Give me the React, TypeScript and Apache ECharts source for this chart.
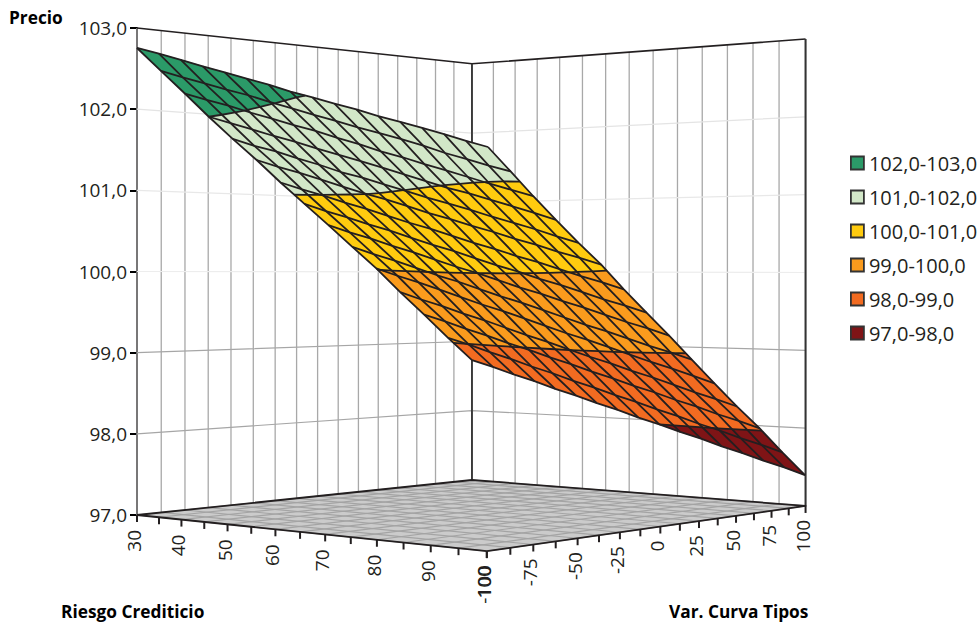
import React, { useEffect, useRef } from "react";
import * as echarts from "echarts";

const FONT = '"Open Sans", sans-serif';
const INK = "#231f20";

const priceTicks = [97, 98, 99, 100, 101, 102, 103];
const riesgoValues = [30, 35, 40, 45, 50, 55, 60, 65, 70, 75, 80, 85, 90, 95, 100];
const riesgoLabels = [30, 40, 50, 60, 70, 80, 90, 100];
const curvaValues = [-100, -87.5, -75, -62.5, -50, -37.5, -25, -12.5, 0, 12.5, 25, 37.5, 50, 62.5, 75, 87.5, 100];
const curvaLabels = [-100, -75, -50, -25, 0, 25, 50, 75, 100];

const bandNames = ["102,0-103,0", "101,0-102,0", "100,0-101,0", "99,0-100,0", "98,0-99,0", "97,0-98,0"];
const bandLows = [102, 101, 100, 99, 98, 97];
const bandColors = ["#2b9a68", "#d2e7c8", "#ffcb0f", "#fa9b1d", "#f26b21", "#7f1416"];
const wallLineColors = ["", "#a6a6a6", "#a6a6a6", "#ededed", "#e8e8e8", "#e4e4e4"];

// Precio: one row per Riesgo Crediticio value, one column per Var. Curva Tipos value
const precio = [
  [102.85, 102.73, 102.61, 102.49, 102.38, 102.27, 102.17, 102.06, 101.97, 101.88, 101.80, 101.71, 101.64, 101.57, 101.50, 101.43, 101.37],
  [102.57, 102.45, 102.34, 102.23, 102.13, 102.02, 101.92, 101.82, 101.73, 101.64, 101.56, 101.48, 101.40, 101.31, 101.24, 101.17, 101.11],
  [102.29, 102.18, 102.08, 101.97, 101.87, 101.77, 101.68, 101.58, 101.49, 101.39, 101.31, 101.22, 101.14, 101.06, 100.98, 100.91, 100.84],
  [102.00, 101.90, 101.80, 101.70, 101.61, 101.51, 101.42, 101.33, 101.24, 101.15, 101.06, 100.97, 100.90, 100.82, 100.74, 100.66, 100.58],
  [101.72, 101.62, 101.54, 101.44, 101.35, 101.25, 101.17, 101.08, 100.99, 100.90, 100.82, 100.74, 100.65, 100.57, 100.49, 100.40, 100.32],
  [101.45, 101.36, 101.28, 101.19, 101.10, 101.01, 100.93, 100.84, 100.75, 100.67, 100.58, 100.50, 100.41, 100.33, 100.24, 100.16, 100.07],
  [101.16, 101.07, 100.99, 100.90, 100.82, 100.73, 100.64, 100.56, 100.47, 100.38, 100.30, 100.21, 100.13, 100.04, 99.95, 99.87, 99.78],
  [100.88, 100.79, 100.71, 100.62, 100.54, 100.45, 100.36, 100.28, 100.19, 100.10, 100.02, 99.93, 99.85, 99.76, 99.67, 99.59, 99.50],
  [100.60, 100.51, 100.43, 100.34, 100.26, 100.17, 100.08, 100.00, 99.91, 99.82, 99.74, 99.65, 99.57, 99.48, 99.39, 99.31, 99.22],
  [100.31, 100.22, 100.14, 100.05, 99.96, 99.88, 99.79, 99.70, 99.62, 99.53, 99.44, 99.35, 99.27, 99.18, 99.09, 99.01, 98.92],
  [100.02, 99.93, 99.85, 99.76, 99.67, 99.58, 99.50, 99.41, 99.32, 99.23, 99.15, 99.06, 98.97, 98.88, 98.80, 98.71, 98.62],
  [99.70, 99.61, 99.53, 99.44, 99.36, 99.27, 99.18, 99.10, 99.01, 98.92, 98.84, 98.75, 98.67, 98.58, 98.49, 98.41, 98.32],
  [99.39, 99.31, 99.22, 99.14, 99.05, 98.97, 98.88, 98.80, 98.71, 98.63, 98.54, 98.46, 98.37, 98.29, 98.20, 98.12, 98.03],
  [99.07, 98.99, 98.90, 98.82, 98.73, 98.65, 98.56, 98.48, 98.39, 98.31, 98.22, 98.14, 98.05, 97.97, 97.88, 97.80, 97.71],
  [98.76, 98.68, 98.59, 98.51, 98.42, 98.34, 98.25, 98.17, 98.08, 98.00, 97.91, 97.83, 97.74, 97.66, 97.57, 97.49, 97.40],
];

const toU = (r: number) => (r - 30) / 70;
const toV = (c: number) => (c + 100) / 200;

// Frame perspective: floor homography; wall height scales with 1/w
const W_U = -0.127;
const W_V = 0.17;
const frameW = (u: number, v: number) => 1 + W_U * u + W_V * v;
const floorX = (u: number, v: number) => (137 + 288 * u + 415.2 * v) / frameW(u, v);
const floorY = (u: number, v: number) => (515 - 33.9 * u + 46.6 * v) / frameW(u, v);

const lerp = (a: number, b: number, t: number) => a + (b - a) * t;
const bilinear = (p00: number, p10: number, p01: number, p11: number, u: number, v: number) =>
  lerp(lerp(p00, p10, u), lerp(p01, p11, u), v);

function wallPoint(api: any, u: number, v: number, z: number) {
  const h = 515 - api.coord([137, z])[1];
  return [floorX(u, v), floorY(u, v) - h / frameW(u, v)];
}

function surfacePoint(api: any, i: number, j: number) {
  const u = toU(riesgoValues[i]);
  const v = toV(curvaValues[j]);
  const z = precio[i][j];
  const x = bilinear(137, 472, 488, 805, u, v);
  const y =
    api.coord([137, z])[1] +
    bilinear(7.8, -12.1, -13.3, -7.5, u, v) +
    (6 + 5 * v) * 4 * u * (1 - u) -
    11.4 * Math.max(0, 1 - u / 0.36) * 4 * v * (1 - v);
  return [x, y, z];
}

function clipAbove(poly: number[][], level: number, keepAbove: boolean) {
  const out: number[][] = [];
  for (let k = 0; k < poly.length; k++) {
    const a = poly[k];
    const b = poly[(k + 1) % poly.length];
    const aIn = keepAbove ? a[2] >= level : a[2] <= level;
    const bIn = keepAbove ? b[2] >= level : b[2] <= level;
    if (aIn) out.push(a);
    if (aIn !== bIn) {
      const t = (level - a[2]) / (b[2] - a[2]);
      out.push([lerp(a[0], b[0], t), lerp(a[1], b[1], t), level]);
    }
  }
  return out;
}

function cellPoly(api: any, i: number, j: number) {
  return [surfacePoint(api, i, j), surfacePoint(api, i + 1, j), surfacePoint(api, i + 1, j + 1), surfacePoint(api, i, j + 1)];
}

const line = (points: number[][], stroke: string, lineWidth: number) => ({
  type: "polyline",
  silent: true,
  shape: { points },
  style: { fill: "none", stroke, lineWidth, lineJoin: "round" },
});

function renderWalls(_: any, api: any) {
  const children: any[] = [];
  curvaValues.forEach((c) => {
    const v = toV(c);
    children.push(line([wallPoint(api, 0, v, 97), wallPoint(api, 0, v, 103)], "#a8a8a8", 1.3));
  });
  riesgoValues.forEach((r) => {
    const u = toU(r);
    children.push(line([wallPoint(api, u, 1, 97), wallPoint(api, u, 1, 103)], "#a8a8a8", 1.3));
  });
  priceTicks.slice(1, 6).forEach((z, k) => {
    children.push(line([wallPoint(api, 0, 0, z), wallPoint(api, 0, 1, z), wallPoint(api, 1, 1, z)], wallLineColors[k + 1], 1.2));
  });
  children.push(line([wallPoint(api, 0, 0, 103), wallPoint(api, 0, 1, 103), wallPoint(api, 1, 1, 103)], INK, 1.6));
  children.push(line([wallPoint(api, 0, 1, 97), wallPoint(api, 0, 1, 103)], "#333333", 1.8));
  children.push(line([wallPoint(api, 1, 1, 97), wallPoint(api, 1, 1, 103)], "#333333", 2));
  return { type: "group", children };
}

function renderFloor(_: any, api: any) {
  const P = (u: number, v: number) => wallPoint(api, u, v, 97);
  const children: any[] = [
    { type: "polygon", silent: true, shape: { points: [P(0, 0), P(1, 0), P(1, 1), P(0, 1)] }, style: { fill: "#cbcbcb" } },
  ];
  curvaValues.forEach((c) => children.push(line([P(0, toV(c)), P(1, toV(c))], "#a4a4a4", 1.2)));
  riesgoValues.forEach((r) => children.push(line([P(toU(r), 0), P(toU(r), 1)], "#a4a4a4", 1.2)));
  children.push(line([P(0, 0), P(1, 0), P(1, 1), P(0, 1), P(0, 0)], INK, 1.8));

  const text = (label: number, x: number, y: number) => ({
    type: "text",
    silent: true,
    x,
    y,
    rotation: Math.PI / 2,
    style: { text: String(label), fontFamily: FONT, fontSize: 19, fill: INK, textAlign: "right", textVerticalAlign: "middle" },
  });
  riesgoValues.forEach((r) => {
    const p = P(toU(r), 0);
    children.push(line([p, [p[0], p[1] + 7]], INK, 2));
  });
  curvaValues.forEach((c) => {
    const p = P(1, toV(c));
    children.push(line([p, [p[0], p[1] + 7]], INK, 2));
  });
  curvaLabels.forEach((c) => {
    const p = P(1, toV(c));
    children.push(text(c, p[0] - 3, p[1] + 14));
  });
  riesgoLabels.forEach((r) => {
    const p = P(toU(r), 0);
    children.push(text(r, p[0] - 3, p[1] + 15));
  });
  return { type: "group", children };
}

function bandCells(low: number) {
  const cells: number[][] = [];
  for (let i = 0; i < riesgoValues.length - 1; i++) {
    for (let j = 0; j < curvaValues.length - 1; j++) {
      const zs = [precio[i][j], precio[i + 1][j], precio[i][j + 1], precio[i + 1][j + 1]];
      if (Math.max(...zs) > low && Math.min(...zs) < low + 1) cells.push([i, j]);
    }
  }
  return cells;
}

const renderBand = (low: number, color: string) => (_: any, api: any) => {
  const i = api.value(0);
  const j = api.value(1);
  let poly = clipAbove(cellPoly(api, i, j), low, true);
  if (poly.length) poly = clipAbove(poly, low + 1, false);
  if (poly.length < 3) return null;
  return {
    type: "polygon",
    silent: true,
    shape: { points: poly.map((p) => [p[0], p[1]]) },
    style: { fill: color, stroke: color, lineWidth: 0.4 },
  };
};

function renderMesh(_: any, api: any) {
  const children: any[] = [];
  riesgoValues.forEach((__, i) => {
    children.push(line(curvaValues.map((___, j) => surfacePoint(api, i, j).slice(0, 2)), INK, 1.8));
  });
  curvaValues.forEach((__, j) => {
    children.push(line(riesgoValues.map((___, i) => surfacePoint(api, i, j).slice(0, 2)), INK, 1.8));
  });
  for (let i = 0; i < riesgoValues.length - 1; i++) {
    for (let j = 0; j < curvaValues.length - 1; j++) {
      const poly = cellPoly(api, i, j);
      bandLows.slice(0, 5).forEach((level) => {
        const hits: number[][] = [];
        poly.forEach((a, k) => {
          const b = poly[(k + 1) % 4];
          if (a[2] >= level !== b[2] >= level) {
            const t = (level - a[2]) / (b[2] - a[2]);
            hits.push([lerp(a[0], b[0], t), lerp(a[1], b[1], t)]);
          }
        });
        if (hits.length >= 2) children.push(line([hits[0], hits[1]], INK, 1.8));
      });
    }
  }
  return { type: "group", children };
}

const titleText = (text: string, left: number, top: number) => ({
  type: "text",
  left,
  top,
  style: { text, fontFamily: FONT, fontWeight: "bold", fontSize: 17.3, fill: "#000000" },
});

export default function App() {
  const ref = useRef<HTMLDivElement>(null);
  useEffect(() => {
    document.body.style.margin = "0";
    const chart = echarts.init(ref.current!, undefined, { renderer: "svg" });
    chart.setOption({
      animation: false,
      backgroundColor: "#ffffff",
      grid: { left: 137, top: 28, width: 668, height: 487 },
      xAxis: { type: "value", min: 137, max: 805, show: false },
      yAxis: {
        type: "value",
        min: 97,
        max: 103,
        interval: 1,
        splitLine: { show: false },
        axisLine: { show: true, lineStyle: { color: INK, width: 2 } },
        axisTick: { show: true, length: 7, lineStyle: { color: "#000000", width: 2 } },
        axisLabel: {
          margin: 10,
          fontFamily: FONT,
          fontSize: 19,
          color: INK,
          formatter: (value: number) => value.toFixed(1).replace(".", ","),
        },
      },
      legend: {
        orient: "vertical",
        left: 845,
        top: 148,
        itemWidth: 13,
        itemHeight: 13,
        itemGap: 14,
        icon: "rect",
        selectedMode: false,
        data: bandNames,
        itemStyle: { borderColor: "#333333", borderWidth: 1.8 },
        textStyle: { fontFamily: FONT, fontSize: 20, color: INK, height: 20, lineHeight: 20, padding: 0 },
      },
      graphic: [
        titleText("Precio", 9, 9),
        titleText("Riesgo Crediticio", 61, 603),
        titleText("Var. Curva Tipos", 669, 603),
      ],
      series: [
        { type: "custom", name: "paredes", coordinateSystem: "cartesian2d", data: [[137, 97]], renderItem: renderWalls, silent: true, z: 1 },
        { type: "custom", name: "suelo", coordinateSystem: "cartesian2d", data: [[137, 97]], renderItem: renderFloor, silent: true, z: 2 },
        ...bandNames.map((name, k) => ({
          type: "custom",
          name,
          coordinateSystem: "cartesian2d",
          data: bandCells(bandLows[k]),
          encode: { x: -1, y: -1 },
          itemStyle: { color: bandColors[k] },
          renderItem: renderBand(bandLows[k], bandColors[k]),
          silent: true,
          z: 3,
        })),
        { type: "custom", name: "malla", coordinateSystem: "cartesian2d", data: [[137, 97]], renderItem: renderMesh, silent: true, z: 4 },
      ],
    });
    return () => chart.dispose();
  }, []);
  return <div ref={ref} style={{ width: 978, height: 624 }} />;
}
